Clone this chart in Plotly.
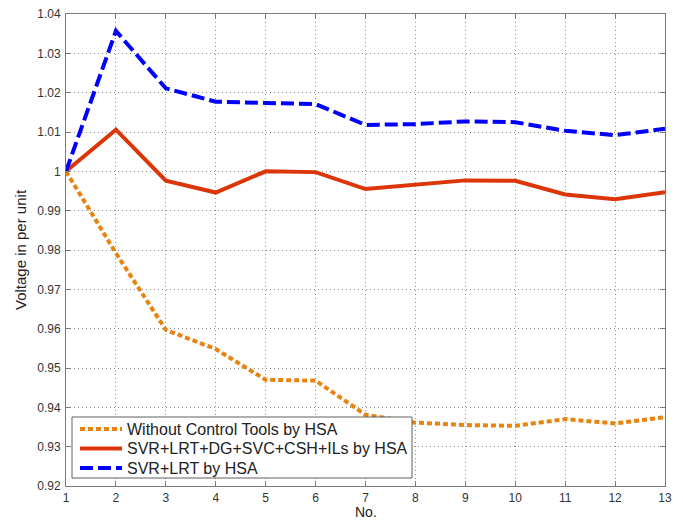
import plotly.graph_objects as go

# Bus / step index
nodes = list(range(1, 14))

# Voltage profiles (p.u.)
v_without = [1.0, 0.9792, 0.9597, 0.9548, 0.9470, 0.9468, 0.9381, 0.9361, 0.9355, 0.9353, 0.9370, 0.9359, 0.9375]
v_full = [1.0, 1.0106, 0.9976, 0.9946, 1.0000, 0.9998, 0.9955, 0.9966, 0.9977, 0.9976, 0.9941, 0.9929, 0.9947]
v_svr_lrt = [1.0, 1.0357, 1.0211, 1.0177, 1.0174, 1.0171, 1.0118, 1.0120, 1.0127, 1.0125, 1.0103, 1.0092, 1.0108]

names = [
    "Without Control Tools by HSA",
    "SVR+LRT+DG+SVC+CSH+ILs by HSA",
    "SVR+LRT by HSA",
]
styles = [
    dict(color="#E8830F", width=4, dash="5px,3px"),
    dict(color="#DC3508", width=4, dash="solid"),
    dict(color="#0000FF", width=4, dash="13px,5px"),
]

FONT = "Liberation Sans, Arial"
W, H = 683, 521
ML, MR, MT, MB = 66, 18, 14, 35
PW, PH = W - ML - MR, H - MT - MB


def px_to_paper(px, py):
    return (px - ML) / PW, (H - MB - py) / PH


fig = go.Figure()
for name, vals, st in zip(names, [v_without, v_full, v_svr_lrt], styles):
    fig.add_trace(go.Scatter(x=nodes, y=vals, mode="lines", name=name,
                             line=st, showlegend=False))

axis_common = dict(
    showline=True, linecolor="#7a7a7a", linewidth=1, mirror="allticks",
    ticks="inside", ticklen=5, tickcolor="#7a7a7a",
    showgrid=True, gridcolor="#8c8c8c", gridwidth=1, griddash="1px,3px",
    zeroline=False, automargin=False,
    tickfont=dict(family=FONT, size=12, color="#333333"),
)

fig.update_xaxes(range=[1, 13], tickmode="array", tickvals=nodes,
                 ticklabelstandoff=1,
                 **axis_common)
fig.update_yaxes(range=[0.92, 1.04], tickmode="array",
                 tickvals=[0.92, 0.93, 0.94, 0.95, 0.96, 0.97, 0.98, 0.99, 1.0, 1.01, 1.02, 1.03, 1.04],
                 ticktext=["0.92", "0.93", "0.94", "0.95", "0.96", "0.97", "0.98", "0.99", "1", "1.01", "1.02", "1.03", "1.04"],
                 ticklabelstandoff=2,
                 title=dict(text="Voltage in per unit", font=dict(family=FONT, size=15, color="#222222"), standoff=6),
                 **axis_common)

shapes = []
annotations = []

# x-axis title
ax_x, ax_y = px_to_paper(ML + PW / 2, 521)
annotations.append(dict(xref="paper", yref="paper", x=ax_x, y=ax_y, xanchor="center", yanchor="bottom",
                        text="No.", showarrow=False, borderpad=0,
                        font=dict(family=FONT, size=14, color="#222222")))

# Legend box drawn by hand: frame, line samples and labels
x0, y0 = px_to_paper(72, 478)
x1, y1 = px_to_paper(412, 417)
shapes.append(dict(type="rect", xref="paper", yref="paper", x0=x0, y0=y0, x1=x1, y1=y1,
                   line=dict(color="#606060", width=1), fillcolor="white", layer="above"))
for i, (name, st) in enumerate(zip(names, styles)):
    row_y = 429 + i * 19.5
    lx0, ly = px_to_paper(80, row_y)
    lx1, _ = px_to_paper(122, row_y)
    shapes.append(dict(type="line", xref="paper", yref="paper", x0=lx0, y0=ly, x1=lx1, y1=ly,
                       line=st, layer="above"))
    tx, _ = px_to_paper(125, row_y)
    annotations.append(dict(xref="paper", yref="paper", x=tx, y=ly, xanchor="left", yanchor="middle",
                            text=name, showarrow=False,
                            font=dict(family=FONT, size=16, color="#222222")))

fig.update_layout(
    width=W, height=H,
    margin=dict(l=ML, r=MR, t=MT, b=MB),
    paper_bgcolor="white", plot_bgcolor="white",
    showlegend=False,
    shapes=shapes,
    annotations=annotations,
)

fig.write_html("out.html")
